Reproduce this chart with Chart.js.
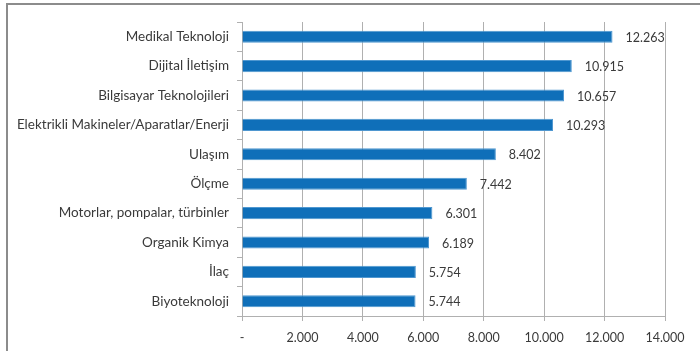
<!DOCTYPE html>
<html>
<head>
<meta charset="utf-8">
<script src="https://cdn.jsdelivr.net/npm/chart.js@4/dist/chart.umd.min.js"></script>
<style>
  html, body { margin: 0; padding: 0; background: #fff; }
  #wrap { position: relative; width: 700px; height: 351px; }
</style>
</head>
<body>
<div id="wrap"><canvas id="c" width="700" height="351"></canvas></div>
<script>
const categories = [
  "Medikal Teknoloji",
  "Dijital İletişim",
  "Bilgisayar Teknolojileri",
  "Elektrikli Makineler/Aparatlar/Enerji",
  "Ulaşım",
  "Ölçme",
  "Motorlar, pompalar, türbinler",
  "Organik Kimya",
  "İlaç",
  "Biyoteknoloji"
];
const values = [12263, 10915, 10657, 10293, 8402, 7442, 6301, 6189, 5754, 5744];
const xTicks = [0, 2000, 4000, 6000, 8000, 10000, 12000, 14000];

function fmt(v) {
  if (v === 0) return "-";
  return String(v).replace(/\B(?=(\d{3})+(?!\d))/g, ".");
}

const FONT = "Lato, 'Open Sans', sans-serif";
const TEXT = "#3a3a3a";
const GRID = "#b0b0b0";

const frame = {
  id: "frame",
  beforeDraw(chart) {
    const ctx = chart.ctx;
    ctx.save();
    ctx.fillStyle = "#fff";
    ctx.fillRect(0, 0, chart.width, chart.height);
    ctx.strokeStyle = "#8c8c8c";
    ctx.lineWidth = 2;
    ctx.beginPath();
    ctx.moveTo(7, 351);
    ctx.lineTo(7, 4);
    ctx.lineTo(700, 4);
    ctx.stroke();
    ctx.restore();
  }
};

const dataLabels = {
  id: "dataLabels",
  afterDatasetsDraw(chart) {
    const ctx = chart.ctx;
    const meta = chart.getDatasetMeta(0);
    ctx.save();
    ctx.font = "12.5px " + FONT;
    ctx.fillStyle = TEXT;
    ctx.textAlign = "left";
    ctx.textBaseline = "middle";
    meta.data.forEach((bar, i) => {
      ctx.fillText(fmt(values[i]), bar.x + 13, bar.y + 1);
    });
    ctx.restore();
  }
};

new Chart(document.getElementById("c"), {
  type: "bar",
  data: {
    labels: categories,
    datasets: [{
      data: values,
      backgroundColor: "#0f6fb9",
      borderColor: "#4f97d0",
      borderWidth: 1,
      barPercentage: 0.41,
      categoryPercentage: 1
    }]
  },
  options: {
    indexAxis: "y",
    responsive: false,
    animation: false,
    devicePixelRatio: 1,
    layout: { padding: { left: 0, right: 35, top: 22, bottom: 0 } },
    plugins: { legend: { display: false }, tooltip: { enabled: false } },
    scales: {
      x: {
        min: 0, max: 14000,
        afterBuildTicks(scale) { scale.ticks = xTicks.map(v => ({ value: v })); },
        afterFit(scale) { scale.height = 35; },
        grid: { color: GRID, lineWidth: 1, tickLength: 5, drawTicks: true },
        border: { color: GRID, width: 1 },
        ticks: {
          padding: 9,
          color: TEXT,
          font: { family: FONT, size: 12.5 },
          callback: (v) => fmt(v),
          maxRotation: 0
        }
      },
      y: {
        afterFit(scale) { scale.width = 242; },
        grid: { drawOnChartArea: false, drawTicks: true, tickLength: 5, offset: true, color: GRID },
        border: { color: GRID, width: 1 },
        ticks: {
          padding: 8,
          color: TEXT,
          font: { family: FONT, size: 13.5 }
        }
      }
    }
  },
  plugins: [frame, dataLabels]
});
</script>
</body>
</html>
